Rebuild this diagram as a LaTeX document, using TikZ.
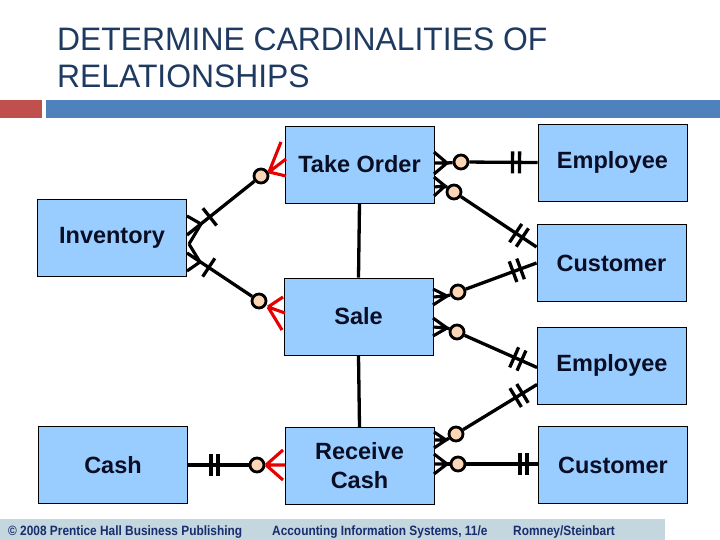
\documentclass[tikz,border=0pt]{standalone}
\usepackage{fontspec}
\setmainfont{Liberation Sans}
\newfontfamily\titlefont{Liberation Sans}[FakeStretch=0.98]
\newfontfamily\footfont{Liberation Sans}[FakeStretch=0.88]
\usetikzlibrary{decorations.markings,calc}
\definecolor{boxblue}{RGB}{153,204,255}
\definecolor{peach}{RGB}{252,213,180}
\definecolor{crowred}{RGB}{230,0,0}
\definecolor{titlecol}{RGB}{31,58,96}
\definecolor{redbar}{RGB}{192,80,77}
\definecolor{bluebar}{RGB}{79,129,189}
\definecolor{footbar}{RGB}{196,214,222}
\definecolor{footcol}{RGB}{23,45,110}
\definecolor{boxtext}{RGB}{10,14,36}
\newcommand\crowf[5]{\draw[crowline] (#1) -- (#2,#3) (#1) -- (#2,#4) (#1) -- (#2,#5);}
\newcommand\redcrowf[7]{\draw[redcrowline] (#1) -- (#2,#3) (#1) -- (#4,#5) (#1) -- (#6,#7);}
\begin{document}
\begin{tikzpicture}[x=1pt,y=-1pt,
  ent/.style={draw=black, line width=0.9pt, fill=boxblue, minimum width=149pt, minimum height=77pt,
    inner sep=0pt, align=center, text=boxtext, font=\fontsize{23.5}{29}\selectfont\bfseries},
  rel/.style={line width=3.3pt, black},
  crowline/.style={line width=3.1pt, black},
  redcrowline/.style={line width=3.1pt, crowred},
  opt/.style={circle, draw=black, line width=2.8pt, fill=peach, minimum size=14pt, inner sep=0pt},
  tickone/.style={postaction={decorate}, decoration={markings,
    mark=at position #1 with {\draw[line width=3.3pt] (0,-11pt) -- (0,11pt);}}},
  ticktwo/.style 2 args={postaction={decorate}, decoration={markings,
    mark=at position #1 with {\draw[line width=3.3pt] (0,-11pt) -- (0,11pt);},
    mark=at position #2 with {\draw[line width=3.3pt] (0,-11pt) -- (0,11pt);}}},
  foot/.style={inner sep=0pt, anchor=base west, text=footcol, font=\footfont\fontsize{13.5}{15}\selectfont\bfseries},
  ttl/.style={inner sep=0pt, anchor=base west, text=titlecol, font=\titlefont\fontsize{32.5}{37}\selectfont}
]
\useasboundingbox (0,0) rectangle (720,540);
% header
\node[ttl] (t1) at (57,51) {DETERMINE CARDINALITIES OF};
\node[ttl] (t2) at (57,88) {RELATIONSHIPS};
\fill[redbar] (0,100) rectangle (42,118);
\fill[bluebar] (46,100) rectangle (720,118);
% footer
\fill[footbar] (0,519) rectangle (665,540);
\node[foot] (f1) at (8,535) {© 2008 Prentice Hall Business Publishing};
\node[foot] (f2) at (272,535) {Accounting Information Systems, 11/e};
\node[foot] (f3) at (513,535) {Romney/Steinbart};
% entities
\node[ent] (inv) at (112,238) {Inventory};
\node[ent] (to) at (359.5,164.5) {Take Order};
\node[ent] (emp1) at (612.5,162.5) {Employee};
\node[ent] (cust1) at (611.5,263) {Customer};
\node[ent] (sale) at (358.5,316.5) {Sale};
\node[ent] (emp2) at (612,365.5) {Employee};
\node[ent] (cash) at (113,465) {Cash};
\node[ent] (rc) at (359.5,466) {Receive\\Cash};
\node[ent] (cust2) at (613,465) {Customer};
% optional circles
\node[opt] (cA) at (261,176) {};
\node[opt] (cB) at (259,301) {};
\node[opt] (cC) at (461,162) {};
\node[opt] (cD) at (454,192) {};
\node[opt] (cE) at (458,292) {};
\node[opt] (cF) at (457,332) {};
\node[opt] (cG) at (456,434) {};
\node[opt] (cH) at (458,464) {};
\node[opt] (cI) at (257,465) {};
% vertical links
\draw[rel] (to.south) -- (sale.north);
\draw[rel] (sale.south) -- (rc.north);
% Inventory - Take Order
\coordinate (iA) at (187,235);
\coordinate (apA) at (201,224);
\draw[rel, tickone=-29pt] (cA) -- (iA);
\draw[crowline] (apA) -- (187,216) (apA) -- (189,244);
\coordinate (rA) at (269,172);
\redcrowf{rA}{281}{142}{286}{159}{286}{176}
% Inventory - Sale
\coordinate (iB) at (187,253);
\coordinate (apB) at (200,262);
\draw[rel, tickone=-26pt] (cB) -- (iB);
\draw[crowline] (apB) -- (187,271) (apB) -- (189,244);
\coordinate (rB) at (268,307);
\redcrowf{rB}{283}{297}{285}{313}{282}{330}
% Take Order - Employee
\coordinate (apC) at (447,163);
\draw[rel] (cC) -- (apC);
\crowf{apC}{434}{152}{163}{174}
\draw[rel, ticktwo={-25pt}{-18pt}] (cC) -- (emp1.west);
% Take Order - Customer
\coordinate (apD) at (445,186);
\draw[rel] (cD) -- (apD);
\crowf{apD}{434}{177}{187}{196}
\draw[rel, ticktwo={-25pt}{-17pt}] (cD) -- ($(cust1.west)+(0,-16)$);
% Sale - Customer
\coordinate (apE) at (447,296);
\draw[rel] (cE) -- (apE);
\crowf{apE}{433}{289}{297}{305}
\draw[rel, ticktwo={-25pt}{-17pt}] (cE) -- (cust1.west);
% Sale - Employee
\coordinate (apF) at (447,328);
\draw[rel] (cF) -- (apF);
\crowf{apF}{433}{318}{327}{336}
\draw[rel, ticktwo={-25pt}{-17pt}] (cF) -- ($(emp2.west)+(0,2)$);
% Receive Cash - Employee
\coordinate (apG) at (446,440);
\draw[rel] (cG) -- (apG);
\crowf{apG}{434}{432}{440}{448}
\draw[rel, ticktwo={-25pt}{-17pt}] (cG) -- ($(emp2.west)+(0,19)$);
% Receive Cash - Customer
\coordinate (apH) at (447,464);
\draw[rel] (cH) -- (apH);
\crowf{apH}{434}{454}{464}{474}
\draw[rel, ticktwo={-18pt}{-11pt}] (cH) -- (cust2.west |- cH);
% Cash - Receive Cash
\draw[rel, ticktwo={23pt}{30pt}] (cash.east) -- (cI);
\coordinate (rI) at (266,465);
\redcrowf{rI}{283}{450}{285}{465}{283}{480}
\end{tikzpicture}
\end{document}
